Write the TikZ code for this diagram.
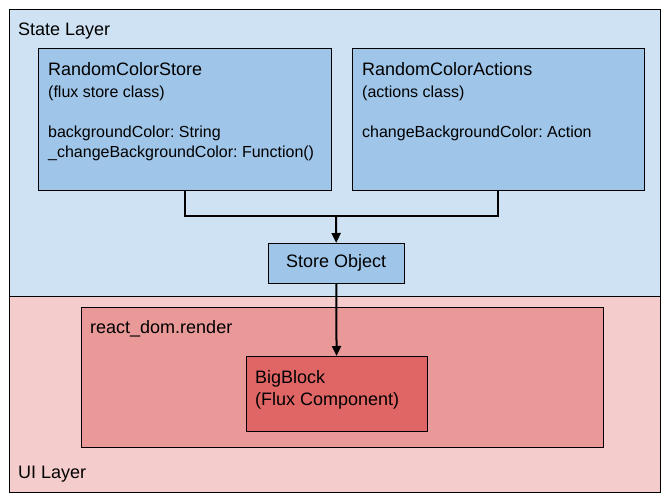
\documentclass[tikz,border=0pt]{standalone}
\usepackage{fontspec}
\setmainfont{Liberation Sans}
\usetikzlibrary{arrows.meta}
\definecolor{statebg}{HTML}{CFE2F3}
\definecolor{classbg}{HTML}{9FC5E8}
\definecolor{uibg}{HTML}{F4CCCC}
\definecolor{renderbg}{HTML}{EA9999}
\definecolor{compbg}{HTML}{E06666}
\frenchspacing

\begin{document}
\begin{tikzpicture}[
      x=1pt, y=-1pt,
      layer/.style={draw=black, anchor=north west, inner sep=0pt, minimum width=651pt},
      box/.style={draw=black, anchor=north west, inner sep=0pt},
      title/.style={anchor=base west, inner sep=0pt, font=\fontsize{18}{22}\selectfont},
      body/.style={anchor=north west, inner sep=0pt, align=left, font=\fontsize{16}{20}\selectfont},
      link/.style={line width=2pt, draw=black},
      arrow/.style={link, -{Triangle[length=10pt, width=9pt]}}
      ]
      \useasboundingbox (0,0) rectangle (669,500);

      % Layers
      \node (statelayer) [layer, fill=statebg, minimum height=287pt] at (9,9) {};
      \node (uilayer) [layer, fill=uibg, minimum height=196pt] at (9,296) {};
      \node (statelbl) [title] at (18,36) {State Layer};
      \node (uilbl) [title] at (18,478) {UI Layer};

      % Classes
      \node (store) [box, fill=classbg, minimum width=293pt, minimum height=142pt] at (38,48) {};
      \node (actions) [box, fill=classbg, minimum width=292pt, minimum height=142pt] at (352,48) {};
      \node (storetitle) [title] at (48,76) {RandomColorStore};
      \node (storebody) [body] at (48,85.3) {(flux store class)\\[20pt] backgroundColor: String\\ \_changeBackgroundColor: Function()};
      \node (actionstitle) [title] at (362,76) {RandomColorActions};
      \node (actionsbody) [body] at (362,85.3) {(actions class)\\[20pt] changeBackgroundColor: Action};

      \node (storeobj) [box, fill=classbg, minimum width=136pt, minimum height=40pt, font=\fontsize{18}{22}\selectfont] at (268,243) {Store Object};

      % Render
      \node (reactdom) [box, fill=renderbg, minimum width=522pt, minimum height=140pt] at (81,307) {};
      \node (reactlbl) [title] at (90,333) {react\_dom.render};
      \node (bigblock) [box, fill=compbg, minimum width=181pt, minimum height=75pt] at (246,356) {};
      \node (bigtxt) [body, font=\fontsize{18}{22}\selectfont] at (255,370) {BigBlock\\(Flux Component)};

      % Arrows
      \coordinate (join) at (336,216);
      \draw [link] (store.south) |- (join) -| (actions.south);
      \draw [arrow] (join) -- (storeobj.north);
      \draw [arrow] (storeobj) -- (bigblock);

\end{tikzpicture}
\end{document}
